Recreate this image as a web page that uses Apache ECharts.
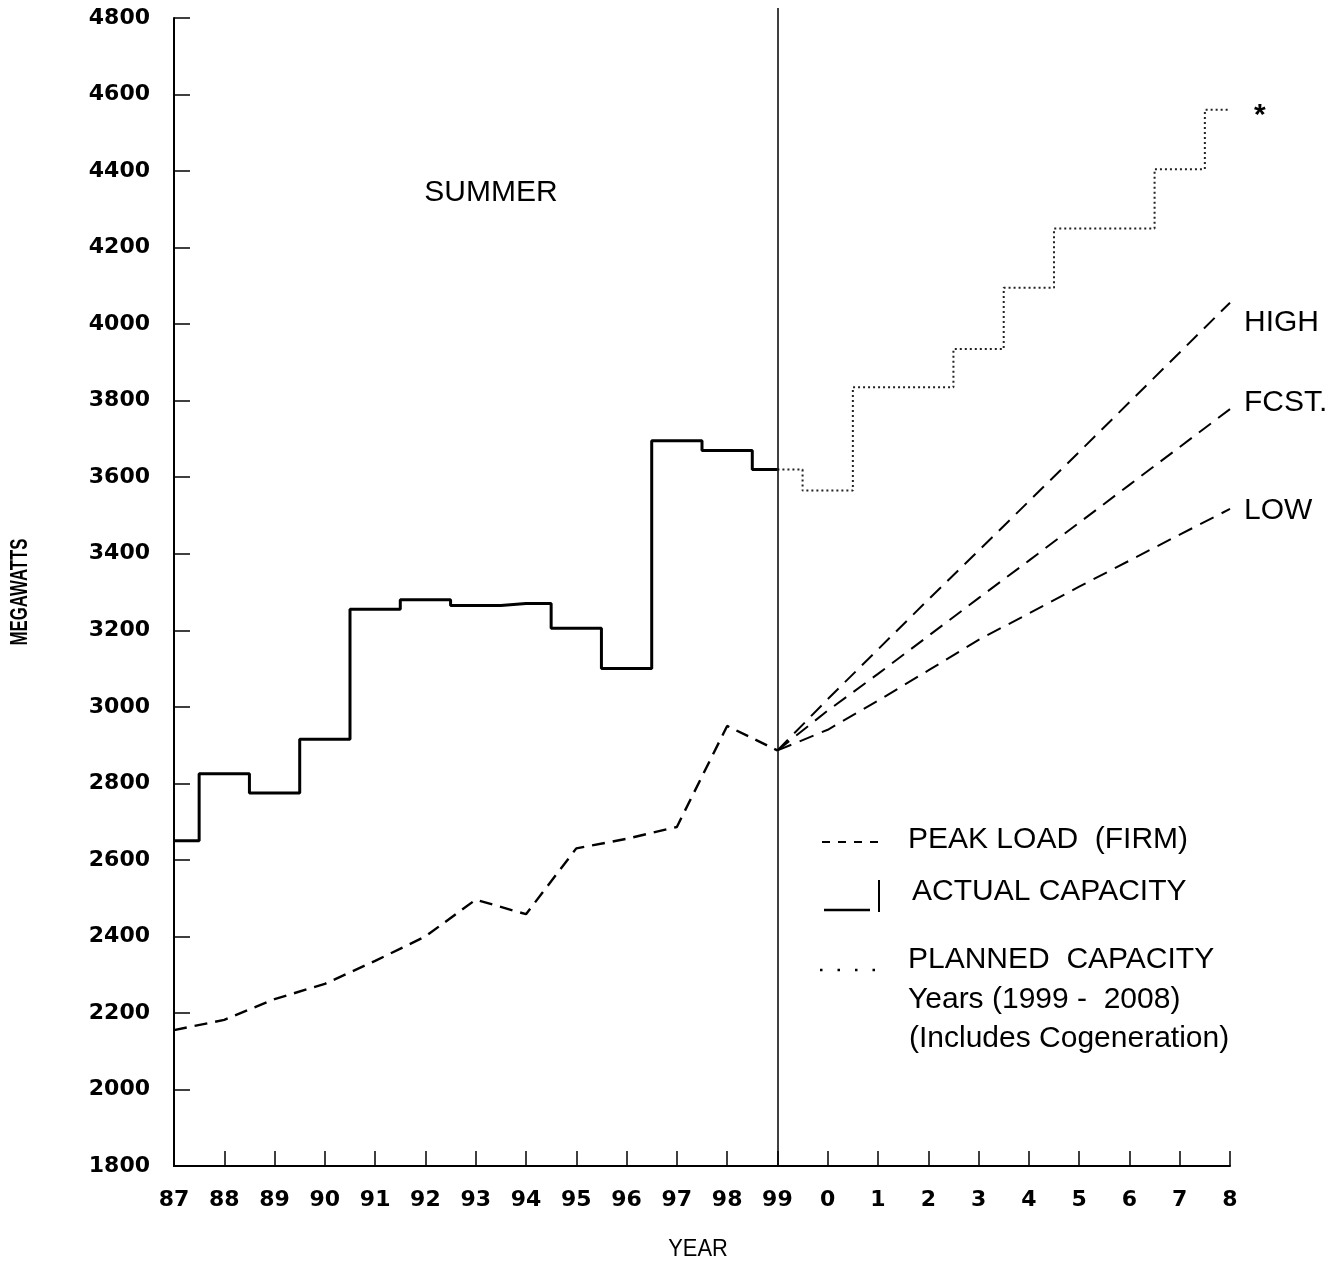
<!DOCTYPE html>
<html>
<head>
<meta charset="utf-8">
<script src="https://cdn.jsdelivr.net/npm/echarts@6/dist/echarts.min.js"></script>
<style>
html,body{margin:0;padding:0;background:#fff;}
#chart{width:1344px;height:1264px;}
</style>
</head>
<body>
<div id="chart"></div>
<script>
// Category tick labels (years 1987-1999, then 2000-2008)
var years = ['87','88','89','90','91','92','93','94','95','96','97','98','99','0','1','2','3','4','5','6','7','8'];
// Actual capacity 87..99 (MW)
var actualCapacity = [2650, 2825, 2775, 2915, 3255, 3280, 3265, 3270, 3205, 3100, 3695, 3670, 3620];
// Planned capacity 99..8 (MW)
var plannedCapacity = [3620, 3565, 3835, 3835, 3935, 4095, 4250, 4250, 4405, 4560];
// Peak load (firm) 87..99
var peakLoad = [2155, 2182, 2236, 2276, 2336, 2400, 2496, 2458, 2630, 2655, 2686, 2950, 2886];
// Forecasts 99..8
var highFcst = [2886, 3020, 3150, 3280, 3408, 3537, 3666, 3796, 3926, 4056];
var baseFcst = [2886, 2990, 3086, 3185, 3284, 3382, 3481, 3580, 3679, 3778];
var lowFcst  = [2886, 2940, 3016, 3095, 3175, 3244, 3314, 3382, 3450, 3517];
var yTicks = {min: 1800, max: 4800, step: 200};

var idx99 = years.indexOf('99');
function pre(arr){ return arr.concat(new Array(years.length - arr.length).fill(null)); }
function post(arr){ return new Array(years.length - arr.length).fill(null).concat(arr); }

var axisFont = 'DejaVu Sans';
var textFont = 'Liberation Sans';

var chart = echarts.init(document.getElementById('chart'));
function fcstSeries(name, data, offset){
  return {
    name: name, type: 'line', data: post(data), showSymbol: false, symbol: 'none', connectNulls: true,
    lineStyle: {color: '#000', width: 2, type: [15, 9]},
    endLabel: {show: true, formatter: name, distance: 5, offset: offset,
      color: '#000', fontFamily: textFont, fontSize: 30}
  };
}
chart.setOption({
  animation: false,
  backgroundColor: '#fff',
  grid: {left: 174, top: 18, right: 114, bottom: 98, containLabel: false, outerBoundsMode: 'none'},
  xAxis: {
    type: 'category', data: years, boundaryGap: false,
    axisLine: {lineStyle: {color: '#000', width: 2}},
    axisTick: {inside: true, length: 15, interval: 0, lineStyle: {color: '#000', width: 1.5}},
    axisLabel: {interval: 0, margin: 23, color: '#000', fontFamily: axisFont, fontWeight: 'bold', fontSize: 22},
    splitLine: {show: false}
  },
  yAxis: {
    type: 'value', min: yTicks.min, max: yTicks.max, interval: yTicks.step,
    axisLine: {show: true, lineStyle: {color: '#000', width: 2}},
    axisTick: {show: true, inside: true, length: 16, lineStyle: {color: '#000', width: 1.5}},
    axisLabel: {margin: 24, color: '#000', fontFamily: axisFont, fontWeight: 'bold', fontSize: 22,
      formatter: function (v) { return String(v); }},
    splitLine: {show: false}
  },
  series: [
    {
      name: 'ACTUAL CAPACITY', type: 'line', step: 'middle', data: pre(actualCapacity), connectNulls: true,
      showSymbol: false, symbol: 'none',
      lineStyle: {color: '#000', width: 3},
      markLine: {
        silent: true, symbol: ['none', 'none'], label: {show: false},
        lineStyle: {color: '#000', width: 1.5, type: 'solid'},
        data: [{xAxis: idx99}]
      }
    },
    {
      name: 'PLANNED CAPACITY', type: 'line', step: 'middle', data: post(plannedCapacity), connectNulls: true,
      showSymbol: false, symbol: 'none',
      lineStyle: {color: '#222', width: 2, type: [2, 3]},
      endLabel: {show: true, formatter: '*', distance: 0, offset: [24, 6],
        color: '#000', fontFamily: textFont, fontWeight: 'bold', fontSize: 30}
    },
    {
      name: 'PEAK LOAD (FIRM)', type: 'line', data: pre(peakLoad), connectNulls: true,
      showSymbol: false, symbol: 'none',
      lineStyle: {color: '#000', width: 2.4, type: [13, 8]}
    },
    fcstSeries('HIGH', highFcst, [9, 20]),
    fcstSeries('FCST.', baseFcst, [9, -6]),
    fcstSeries('LOW', lowFcst, [9, 2])
  ],
  graphic: [
    // axis titles
    {type: 'text', x: 20, y: 592, rotation: Math.PI / 2, scaleX: 0.7,
      style: {text: 'MEGAWATTS', fontFamily: textFont, fontWeight: 'bold', fontSize: 24, fill: '#000', align: 'center', verticalAlign: 'middle'}},
    {type: 'text', x: 698, y: 1250, scaleX: 0.95,
      style: {text: 'YEAR', fontFamily: textFont, fontSize: 23, fill: '#000', align: 'center', verticalAlign: 'middle'}},
    {type: 'text', x: 491, y: 193, style: {text: 'SUMMER', fontFamily: textFont, fontSize: 30, fill: '#000', align: 'center', verticalAlign: 'middle'}},
    {type: 'line', shape: {x1: 778, y1: 8, x2: 778, y2: 18}, style: {stroke: '#000', lineWidth: 1.5}},
    // legend
    {type: 'line', shape: {x1: 822, y1: 842, x2: 880, y2: 842}, style: {stroke: '#000', lineWidth: 2, lineDash: [8, 8]}},
    {type: 'text', x: 908, y: 840, style: {text: 'PEAK LOAD  (FIRM)', fontFamily: textFont, fontSize: 30, fill: '#000', align: 'left', verticalAlign: 'middle'}},
    {type: 'line', shape: {x1: 824, y1: 910, x2: 870, y2: 910}, style: {stroke: '#000', lineWidth: 2.5}},
    {type: 'line', shape: {x1: 879, y1: 880, x2: 879, y2: 912}, style: {stroke: '#000', lineWidth: 2}},
    {type: 'text', x: 912, y: 892, style: {text: 'ACTUAL CAPACITY', fontFamily: textFont, fontSize: 30, fill: '#000', align: 'left', verticalAlign: 'middle'}},
    {type: 'line', shape: {x1: 820, y1: 970, x2: 878, y2: 970}, style: {stroke: '#000', lineWidth: 2.5, lineDash: [2.5, 15]}},
    {type: 'text', x: 908, y: 960, style: {text: 'PLANNED  CAPACITY', fontFamily: textFont, fontSize: 30, fill: '#000', align: 'left', verticalAlign: 'middle'}},
    {type: 'text', x: 908, y: 1000, style: {text: 'Years (1999 -  2008)', fontFamily: textFont, fontSize: 30, fill: '#000', align: 'left', verticalAlign: 'middle'}},
    {type: 'text', x: 909, y: 1039, style: {text: '(Includes Cogeneration)', fontFamily: textFont, fontSize: 30, fill: '#000', align: 'left', verticalAlign: 'middle'}}
  ]
});
</script>
</body>
</html>
